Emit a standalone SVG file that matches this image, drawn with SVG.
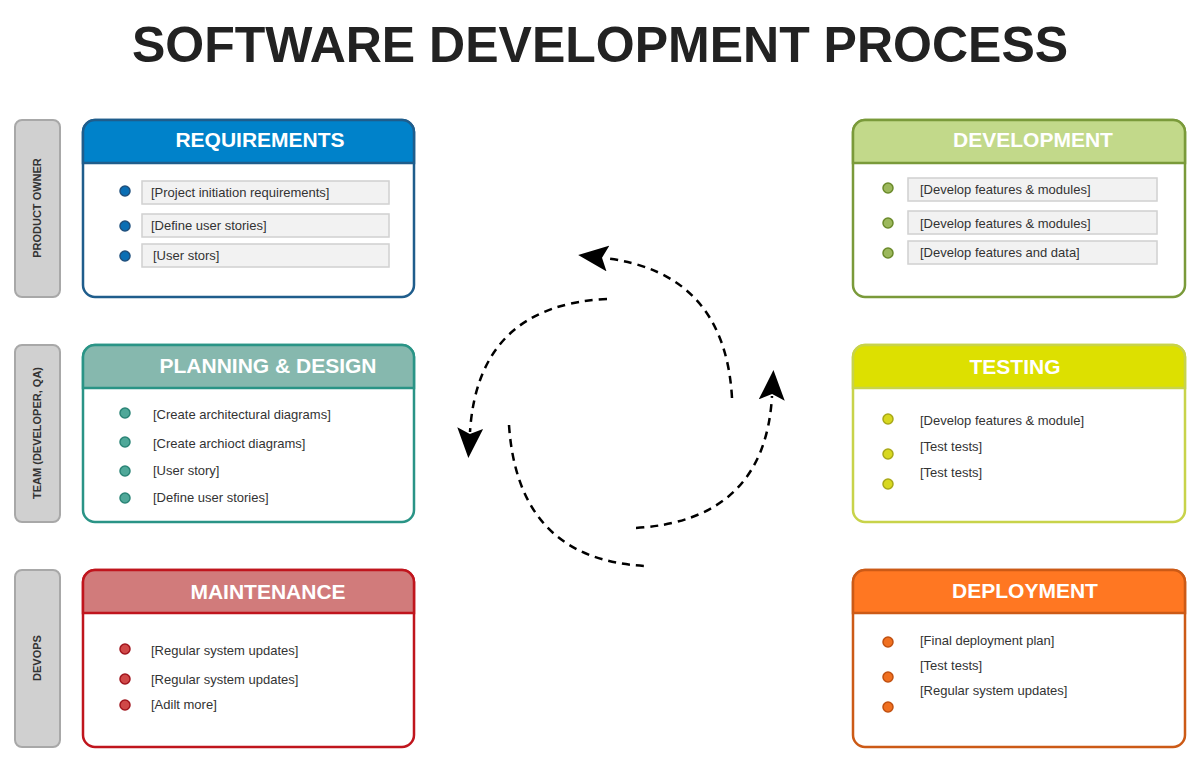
<svg xmlns="http://www.w3.org/2000/svg" width="1200" height="762" viewBox="0 0 1200 762">
<defs>
<style>
.side{fill:#d0d0d0;stroke:#a8a8a8;stroke-width:2}
.sidet{font:bold 11px "Liberation Sans",Arial,sans-serif;fill:#333;text-anchor:middle}
.hd{font:bold 21px "Liberation Sans",Arial,sans-serif;fill:#fff;text-anchor:middle}
.it{font:13px "Liberation Sans",Arial,sans-serif;fill:#333}
.tb{fill:#f2f2f2;stroke:#d0d0d0;stroke-width:1.5}
.arc{fill:none;stroke:#000;stroke-width:2.5;stroke-dasharray:8 6}
</style>
<marker id="ah" viewBox="0 0 30 26" refX="4" refY="13" markerWidth="30" markerHeight="26" markerUnits="userSpaceOnUse" orient="auto">
<path d="M0,0 L30,13 L0,26 L6,13 Z" fill="#000"/>
</marker>
</defs>
<rect width="1200" height="762" fill="#fff"/>
<text x="600" y="62" font-family="Liberation Sans,Arial,sans-serif" font-weight="bold" font-size="50" fill="#222" text-anchor="middle">SOFTWARE DEVELOPMENT PROCESS</text>

<g id="side-po"><rect class="side" x="15" y="120" width="45" height="177" rx="7"/><text class="sidet" transform="translate(41,208) rotate(-90)">PRODUCT OWNER</text></g>
<g id="side-team"><rect class="side" x="15" y="345" width="45" height="177" rx="7"/><text class="sidet" transform="translate(41,433) rotate(-90)">TEAM (DEVELOPER, QA)</text></g>
<g id="side-devops"><rect class="side" x="15" y="570" width="45" height="177" rx="7"/><text class="sidet" transform="translate(41,658) rotate(-90)">DEVOPS</text></g>

<g id="requirements">
<rect x="83" y="120" width="331" height="177" rx="12" fill="#fff" stroke="#1f5d8c" stroke-width="2.5"/>
<path d="M95,120 H402 A12,12 0 0 1 414,132 V163 H83 V132 A12,12 0 0 1 95,120 Z" fill="#0082ca" stroke="#1f5d8c" stroke-width="2.5"/>
<text class="hd" x="260" y="147">REQUIREMENTS</text>
<g fill="#0a6eb4" stroke="#1f4f7c" stroke-width="1.5"><circle cx="125" cy="191" r="5"/><circle cx="125" cy="226" r="5"/><circle cx="125" cy="256" r="5"/></g>
<rect class="tb" x="142" y="181" width="247" height="23"/><rect class="tb" x="142" y="214" width="247" height="23"/><rect class="tb" x="142" y="244" width="247" height="23"/>
<text class="it" x="151" y="197">[Project initiation requirements]</text>
<text class="it" x="151" y="230">[Define user stories]</text>
<text class="it" x="153" y="260">[User stors]</text>
</g>

<g id="planning">
<rect x="83" y="345" width="331" height="177" rx="12" fill="#fff" stroke="#2a9486" stroke-width="2.5"/>
<path d="M95,345 H402 A12,12 0 0 1 414,357 V388 H83 V357 A12,12 0 0 1 95,345 Z" fill="#86b8ae" stroke="#2a9486" stroke-width="2.5"/>
<text class="hd" x="268" y="373">PLANNING &amp; DESIGN</text>
<g fill="#4fa899" stroke="#2a8476" stroke-width="1.5"><circle cx="125" cy="413" r="5"/><circle cx="125" cy="442" r="5"/><circle cx="125" cy="471" r="5"/><circle cx="125" cy="498" r="5"/></g>
<text class="it" x="153" y="419">[Create architectural diagrams]</text>
<text class="it" x="153" y="448">[Create archioct diagrams]</text>
<text class="it" x="153" y="475">[User story]</text>
<text class="it" x="153" y="502">[Define user stories]</text>
</g>

<g id="maintenance">
<rect x="83" y="570" width="331" height="177" rx="12" fill="#fff" stroke="#c0151d" stroke-width="2.5"/>
<path d="M95,570 H402 A12,12 0 0 1 414,582 V613 H83 V582 A12,12 0 0 1 95,570 Z" fill="#d17b7b" stroke="#c0151d" stroke-width="2.5"/>
<text class="hd" x="268" y="599">MAINTENANCE</text>
<g fill="#d04848" stroke="#a0151d" stroke-width="1.5"><circle cx="125" cy="649" r="5"/><circle cx="125" cy="679" r="5"/><circle cx="125" cy="705" r="5"/></g>
<text class="it" x="151" y="655">[Regular system updates]</text>
<text class="it" x="151" y="684">[Regular system updates]</text>
<text class="it" x="151" y="709">[Adilt more]</text>
</g>

<g id="development">
<rect x="853" y="120" width="332" height="177" rx="12" fill="#fff" stroke="#7a9a3a" stroke-width="2.5"/>
<path d="M865,120 H1173 A12,12 0 0 1 1185,132 V163 H853 V132 A12,12 0 0 1 865,120 Z" fill="#c2d98a" stroke="#7a9a3a" stroke-width="2.5"/>
<text class="hd" x="1033" y="147">DEVELOPMENT</text>
<g fill="#9cb85c" stroke="#6a8a2a" stroke-width="1.5"><circle cx="888" cy="188" r="5"/><circle cx="888" cy="223" r="5"/><circle cx="888" cy="253" r="5"/></g>
<rect class="tb" x="908" y="178" width="249" height="23"/><rect class="tb" x="908" y="211" width="249" height="23"/><rect class="tb" x="908" y="241" width="249" height="23"/>
<text class="it" x="920" y="194">[Develop features &amp; modules]</text>
<text class="it" x="920" y="228">[Develop features &amp; modules]</text>
<text class="it" x="920" y="257">[Develop features and data]</text>
</g>

<g id="testing">
<rect x="853" y="345" width="332" height="177" rx="12" fill="#fff" stroke="#c8d34a" stroke-width="2.5"/>
<path d="M865,345 H1173 A12,12 0 0 1 1185,357 V388 H853 V357 A12,12 0 0 1 865,345 Z" fill="#dde000" stroke="#c8d34a" stroke-width="2.5"/>
<text class="hd" x="1015" y="374">TESTING</text>
<g fill="#d8d820" stroke="#a8a818" stroke-width="1.5"><circle cx="888" cy="419" r="5"/><circle cx="888" cy="454" r="5"/><circle cx="888" cy="484" r="5"/></g>
<text class="it" x="920" y="425">[Develop features &amp; module]</text>
<text class="it" x="920" y="451">[Test tests]</text>
<text class="it" x="920" y="477">[Test tests]</text>
</g>

<g id="deployment">
<rect x="853" y="570" width="332" height="177" rx="12" fill="#fff" stroke="#cc5a16" stroke-width="2.5"/>
<path d="M865,570 H1173 A12,12 0 0 1 1185,582 V613 H853 V582 A12,12 0 0 1 865,570 Z" fill="#ff7722" stroke="#cc5a16" stroke-width="2.5"/>
<text class="hd" x="1025" y="598">DEPLOYMENT</text>
<g fill="#f07020" stroke="#c05010" stroke-width="1.5"><circle cx="888" cy="642" r="5"/><circle cx="888" cy="677" r="5"/><circle cx="888" cy="707" r="5"/></g>
<text class="it" x="920" y="645">[Final deployment plan]</text>
<text class="it" x="920" y="670">[Test tests]</text>
<text class="it" x="920" y="695">[Regular system updates]</text>
</g>

<g id="connectors">
<path class="arc" d="M732,398 Q725,272 604,258" marker-end="url(#ah)"/>
<path class="arc" d="M607,299 Q478,305 470,432" marker-end="url(#ah)"/>
<path class="arc" d="M509,425 Q518,560 646,566"/>
<path class="arc" d="M636,528 Q765,520 772,396" marker-end="url(#ah)"/>
</g>
</svg>
